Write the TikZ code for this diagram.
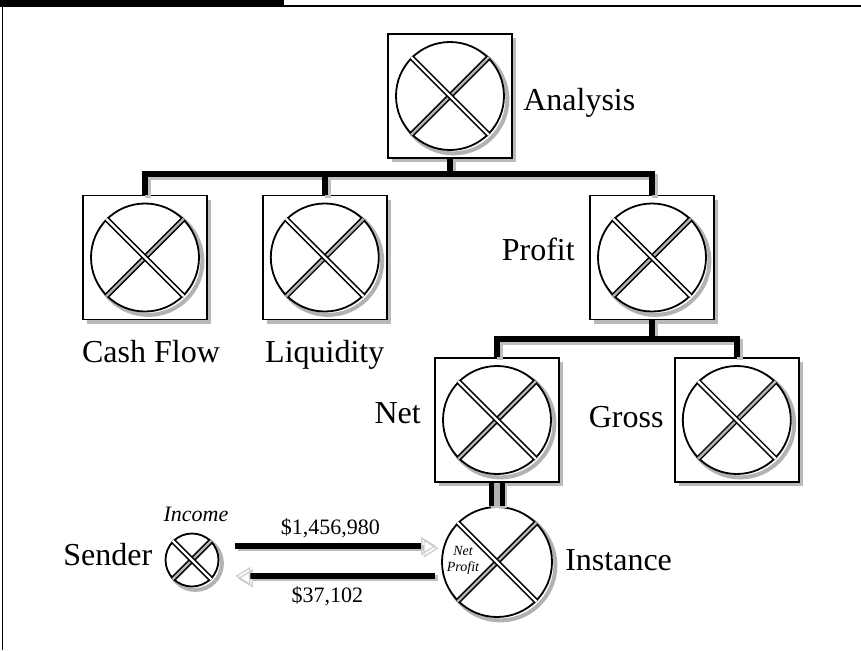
\documentclass[tikz,border=0pt]{standalone}
\usepackage{fontspec}
\setmainfont{Liberation Serif}
\usepackage{tikz}
\usetikzlibrary{shapes,arrows.meta,positioning,shadows}
\tikzset{
    objbox/.style={
        rectangle,
        draw,
        line width=0.9pt,
        fill=white,
        inner sep=0pt,
        minimum size=62pt,
        drop shadow={shadow xshift=2pt, shadow yshift=-2pt, fill=gray!55, opacity=1}
    },
    xball/.style={
        circle,
        draw,
        line width=0.9pt,
        fill=white,
        inner sep=0pt,
        minimum size=54pt,
        preaction={draw=gray!60, line width=2pt, transform canvas={shift={(1.7pt,-1.7pt)}}}
    },
    crossbar/.style={line width=0.75pt, double distance=1.2pt},
    txt/.style={font=\fontsize{16}{19}\selectfont, inner sep=1pt},
    money/.style={font=\fontsize{11}{13}\selectfont, inner sep=0pt},
    link/.style={
        line width=2.8pt,
        preaction={draw=gray!50, line width=2.8pt, transform canvas={shift={(1.5pt,-1.5pt)}}}
    },
    twin/.style={
        line width=2.9pt,
        double=gray!60,
        double distance=2.6pt,
        preaction={draw=gray!50, line width=8pt, transform canvas={shift={(1pt,-1pt)}}}
    },
    flow/.style={
        line width=3pt,
        -{Triangle[open, length=7.5pt, width=9pt, line width=0.6pt, color=gray!40]},
        preaction={draw=gray!50, line width=3pt, transform canvas={shift={(1.2pt,-1.2pt)}}}
    }
}
\begin{document}
\begin{tikzpicture}[x=0.5pt, y=0.5pt]
    \useasboundingbox (0,0) rectangle (861,650);
    % page frame
    \fill (0,643.5) rectangle (284,650);
    \draw[line width=0.75pt] (284,644) -- (861,644);
    \draw[line width=0.75pt] (2.7,650) -- (2.7,0);

    % class boxes
    \node[objbox] (analysis) at (450,554) {};
    \node[objbox] (cash) at (145,392.5) {};
    \node[objbox, right=27pt of cash] (liquidity) {};
    \node[objbox] (profit) at (652,392.5) {};
    \node[objbox] (net) at (497,230) {};
    \node[objbox, right=57pt of net] (gross) {};

    \node[xball] (analysis-x) at (analysis) {};
    \node[xball] (cash-x) at (cash) {};
    \node[xball] (liquidity-x) at (liquidity) {};
    \node[xball] (profit-x) at (profit) {};
    \node[xball] (net-x) at (net) {};
    \node[xball] (gross-x) at (gross) {};

    % objects
    \node[xball, minimum size=55pt] (instance) at (497,88) {};
    \node[xball, minimum size=26.5pt] (sender) at (192,90) {};

    % the crosses
    \foreach \b in {analysis-x,cash-x,liquidity-x,profit-x,net-x,gross-x,instance,sender} {
        \draw[crossbar, double=gray!60] (\b.south west) -- (\b.north east);
        \draw[crossbar, double=white] (\b.north west) -- (\b.south east);
    }

    % labels
    \node[txt, base right=4pt of analysis, yshift=-7pt] (analysis-l) {Analysis};
    \node[txt, below=8.5pt of cash, xshift=3pt] (cash-l) {Cash Flow};
    \node[txt, below=8.5pt of liquidity] (liquidity-l) {Liquidity};
    \node[txt, base left=6pt of profit, yshift=-1.5pt] (profit-l) {Profit};
    \node[txt, base left=5.5pt of net, yshift=-1.5pt] (net-l) {Net};
    \node[txt, base left=4pt of gross, yshift=-3.5pt] (gross-l) {Gross};
    \node[txt, base right=5pt of instance, yshift=-4pt] (instance-l) {Instance};
    \node[txt, base left=5pt of sender, yshift=-2.5pt] (sender-l) {Sender};
    \node[money, font=\fontsize{11}{13}\selectfont\itshape, above=5pt of sender, xshift=2pt] (income) {Income};
    \node[font=\fontsize{7}{8}\selectfont\itshape, align=center, inner sep=0pt, xshift=-17pt, yshift=1pt] (netprofit) at (instance) {Net\\Profit};

    % hierarchy
    \coordinate (bus1) at (450,476);
    \coordinate (bus2) at (652,311);
    \draw[link] (cash.north) |- (bus1) -| (profit.north)
        (liquidity.north) -- (liquidity.north |- bus1)
        (analysis.south) -- (bus1);
    \draw[link] (net.north) |- (bus2) -| (gross.north)
        (profit.south) -- (bus2);
    \draw[twin] (net.south) -- (instance.north);

    % messages
    \coordinate (s1) at ([yshift=7pt]sender.east);
    \coordinate (s2) at ([yshift=-8pt]sender.east);
    \draw[flow, shorten <=8pt, shorten >=2.5pt] (s1) -- (s1 -| instance.west)
        node[money, midway, anchor=base, yshift=6pt] (amount-in) {\$1,456,980};
    \draw[flow, shorten <=3pt, shorten >=8pt] (s2 -| instance.west) -- (s2)
        node[money, midway, anchor=base, yshift=-13pt, xshift=-1.5pt] (amount-out) {\$37,102};
\end{tikzpicture}
\end{document}
